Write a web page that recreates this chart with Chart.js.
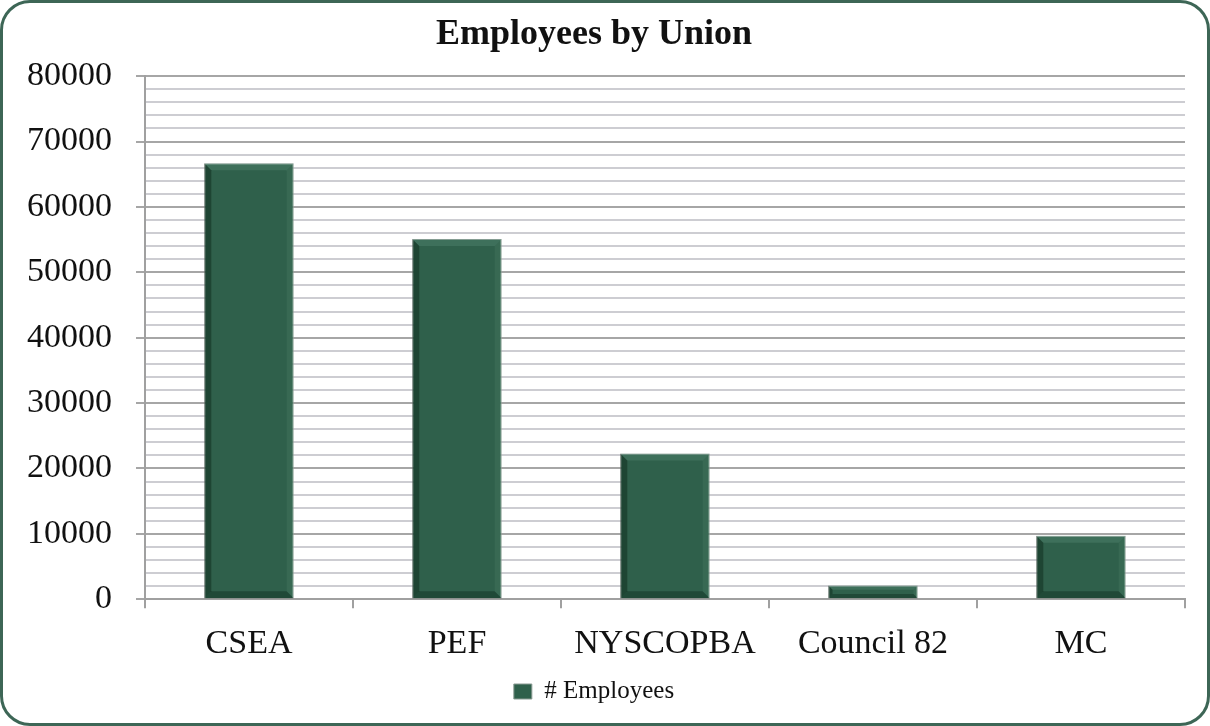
<!DOCTYPE html>
<html>
<head>
<meta charset="utf-8">
<script src="https://cdn.jsdelivr.net/npm/chart.js@4"></script>
<style>
html,body{margin:0;padding:0;background:#fff;}
#wrap{position:absolute;left:0;top:0;width:1210px;height:726px;box-sizing:border-box;border:3px solid #3d6656;border-radius:30px;background:#fff;overflow:hidden;}
#c{position:absolute;left:0;top:0;}
</style>
</head>
<body>
<div id="wrap"><canvas id="c" width="1204" height="720"></canvas></div>
<script>
const categories = ["CSEA", "PEF", "NYSCOPBA", "Council 82", "MC"];
const employees = [66700, 55100, 22300, 2100, 9700];
const yMin = 0, yMax = 80000, yMajor = 10000, yMinor = 2000;
const seriesName = "# Employees";
const titleText = "Employees by Union";

const serif = "'Liberation Serif', 'Times New Roman', serif";
const ctx = document.getElementById('c').getContext('2d');

const bevel = {
  id: 'bevel',
  afterDatasetsDraw(chart) {
    const c = chart.ctx;
    chart.getDatasetMeta(0).data.forEach(bar => {
      const p = bar.getProps(['x', 'y', 'base', 'width'], true);
      const l = p.x - p.width / 2, r = p.x + p.width / 2, t = p.y, b = p.base;
      const h = b - t;
      const ins = Math.min(7, h / 3);
      c.save();
      c.fillStyle = 'rgba(120,170,150,0.22)';
      c.beginPath(); c.moveTo(l, t); c.lineTo(r, t); c.lineTo(r - ins, t + ins); c.lineTo(l + ins, t + ins); c.closePath(); c.fill();
      c.fillStyle = 'rgba(0,20,10,0.35)';
      c.beginPath(); c.moveTo(l, t); c.lineTo(l + ins, t + ins); c.lineTo(l + ins, b - ins); c.lineTo(l, b); c.closePath(); c.fill();
      c.fillStyle = 'rgba(0,20,10,0.30)';
      c.beginPath(); c.moveTo(l, b); c.lineTo(l + ins, b - ins); c.lineTo(r - ins, b - ins); c.lineTo(r, b); c.closePath(); c.fill();
      c.fillStyle = 'rgba(120,170,150,0.12)';
      c.beginPath(); c.moveTo(r, t); c.lineTo(r, b); c.lineTo(r - ins, b - ins); c.lineTo(r - ins, t + ins); c.closePath(); c.fill();
      c.restore();
    });
  }
};

new Chart(ctx, {
  type: 'bar',
  data: {
    labels: categories,
    datasets: [{
      label: seriesName,
      data: employees,
      backgroundColor: '#2f604b',
      borderColor: '#8a9a93',
      borderWidth: 1,
      barPercentage: 0.43,
      categoryPercentage: 1.0
    }]
  },
  options: {
    responsive: false,
    animation: false,
    layout: { padding: { left: 0, right: 22, top: 6, bottom: 9 } },
    plugins: {
      title: {
        display: true, text: titleText, color: '#111',
        font: { family: serif, size: 36, weight: 'bold' },
        padding: { top: 4, bottom: 20 }
      },
      legend: {
        display: true, position: 'bottom',
        labels: {
          color: '#111', font: { family: serif, size: 25 },
          boxWidth: 18, boxHeight: 15, padding: 10
        }
      },
      tooltip: { enabled: false }
    },
    scales: {
      x: {
        afterFit: s => { s.height = s.height - 10; },
        grid: { display: true, drawOnChartArea: false, offset: true, tickLength: 9, color: '#a0a0a0', lineWidth: 2 },
        border: { display: true, color: '#a0a0a0', width: 2 },
        ticks: { color: '#111', font: { family: serif, size: 34 }, padding: 15 }
      },
      y: {
        min: yMin, max: yMax,
        afterFit: s => { s.width = 142; },
        grid: {
          color: c => (c.tick && c.tick.value % yMajor === 0) ? '#a6a6a6' : '#cdcdd2',
          tickColor: c => (c.tick && c.tick.value % yMajor === 0) ? '#a6a6a6' : 'rgba(0,0,0,0)',
          lineWidth: 2, tickLength: 9
        },
        border: { display: true, color: '#a0a0a0', width: 2 },
        ticks: {
          stepSize: yMinor, autoSkip: false, color: '#111',
          font: { family: serif, size: 34 }, padding: 24,
          callback: v => (v % yMajor === 0) ? String(v) : ''
        }
      }
    }
  },
  plugins: [bevel]
});
</script>
</body>
</html>
